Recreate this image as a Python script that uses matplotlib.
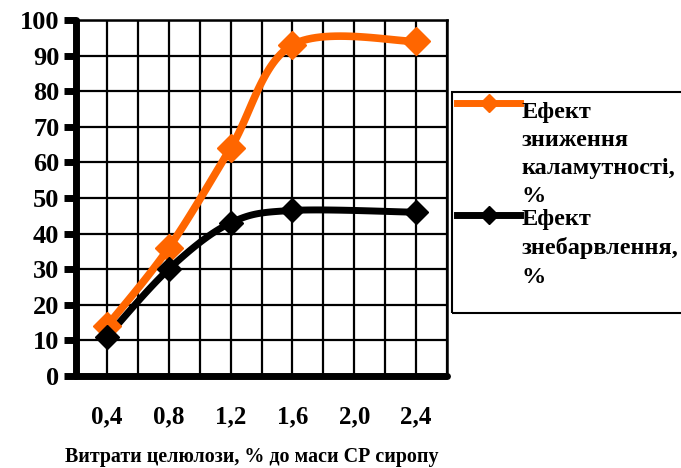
import matplotlib
matplotlib.use('Agg')
import matplotlib.pyplot as plt
from matplotlib.lines import Line2D
from matplotlib.patches import Rectangle
import numpy as np

plt.rcParams['font.family'] = ['Liberation Serif', 'DejaVu Serif']
plt.rcParams['font.weight'] = 'bold'

# data
dose = [0.4, 0.8, 1.2, 1.6, 2.4]
turbidity = [14, 36, 64, 93, 94]     # Ефект зниження каламутності, %
colour = [11, 30, 43, 46.5, 46]      # Ефект знебарвлення, %
xticks = [0.4, 0.8, 1.2, 1.6, 2.0, 2.4]
xticklabels = ['0,4', '0,8', '1,2', '1,6', '2,0', '2,4']
labels = ['Ефект\nзниження\nкаламутності,\n%', 'Ефект\nзнебарвлення,\n%']
colors = ['#FF6600', 'black']


def smooth(x, y, n=30):
    ''' Excel-like smoothed line (cubic bezier through the points) '''
    p = np.column_stack([x, y]).astype(float)
    out = []
    for i in range(len(p) - 1):
        p0 = p[max(i - 1, 0)]
        p1, p2 = p[i], p[i + 1]
        p3 = p[min(i + 2, len(p) - 1)]
        c1 = p1 + (p2 - p0) / 6.
        c2 = p2 - (p3 - p1) / 6.
        t = np.linspace(0, 1, n)[:, None]
        seg = (1-t)**3*p1 + 3*(1-t)**2*t*c1 + 3*(1-t)*t**2*c2 + t**3*p2
        out.append(seg if i == 0 else seg[1:])
    out = np.vstack(out)
    return out[:, 0], out[:, 1]


fig = plt.figure(figsize=(6.81, 4.68), dpi=100)
ax = fig.add_axes([76/681, 1-376/468, (447-76)/681, (376-20)/468])

for yv, c, lw, ms in zip([turbidity, colour], colors, [5.5, 5], [14, 12]):
    sx, sy = smooth(dose, yv)
    ax.plot(sx, sy, color=c, lw=lw, solid_capstyle='butt', zorder=3)
    ax.plot(dose, yv, ls='none', marker='D', ms=ms, color=c, zorder=4)

ax.set_xlim(0.2, 2.6)
ax.set_ylim(0, 100)
ax.set_xticks(np.arange(0.2, 2.61, 0.2), minor=True)
ax.set_xticks(xticks)
ax.set_xticklabels(xticklabels, fontsize=18, fontweight='bold')
ax.set_yticks(np.arange(0, 101, 10))
ax.set_yticklabels([str(v) for v in range(0, 101, 10)], fontsize=19, fontweight='bold')
ax.tick_params(axis='x', which='both', length=0, pad=21)
ax.tick_params(axis='y', length=9, width=5, pad=3)
ax.grid(True, which='both', color='black', lw=1.6)
ax.set_axisbelow(True)
for s in ['top', 'right']:
    ax.spines[s].set_linewidth(1.8)
for s in ['left', 'bottom']:
    ax.spines[s].set_linewidth(5)
    ax.spines[s].set_capstyle('round')
ax.set_xlabel('Витрати целюлози, % до маси СР сиропу', fontsize=14.4,
              fontweight='bold')
ax.xaxis.set_label_coords(0.474, -0.2)

# legend, drawn by hand so the handle sits at the first text line
fig.patches.append(Rectangle((452/681, 1-313/468), 240/681, (313-92)/468,
                             transform=fig.transFigure, fill=False,
                             edgecolor='black', lw=1.5))
for lab, c, yh, yt in zip(labels, colors, [103, 215], [102, 209]):
    fig.lines.append(Line2D([457/681, 488.5/681, 520/681], [1-yh/468]*3,
                            transform=fig.transFigure, color=c, lw=5,
                            marker='D', markevery=[1], ms=9.5))
    fig.text(522/681, 1-yt/468, lab, fontsize=17.5, fontweight='bold',
             va='top', ha='left', linespacing=1.44)

plt.savefig('out.png', dpi=100)
